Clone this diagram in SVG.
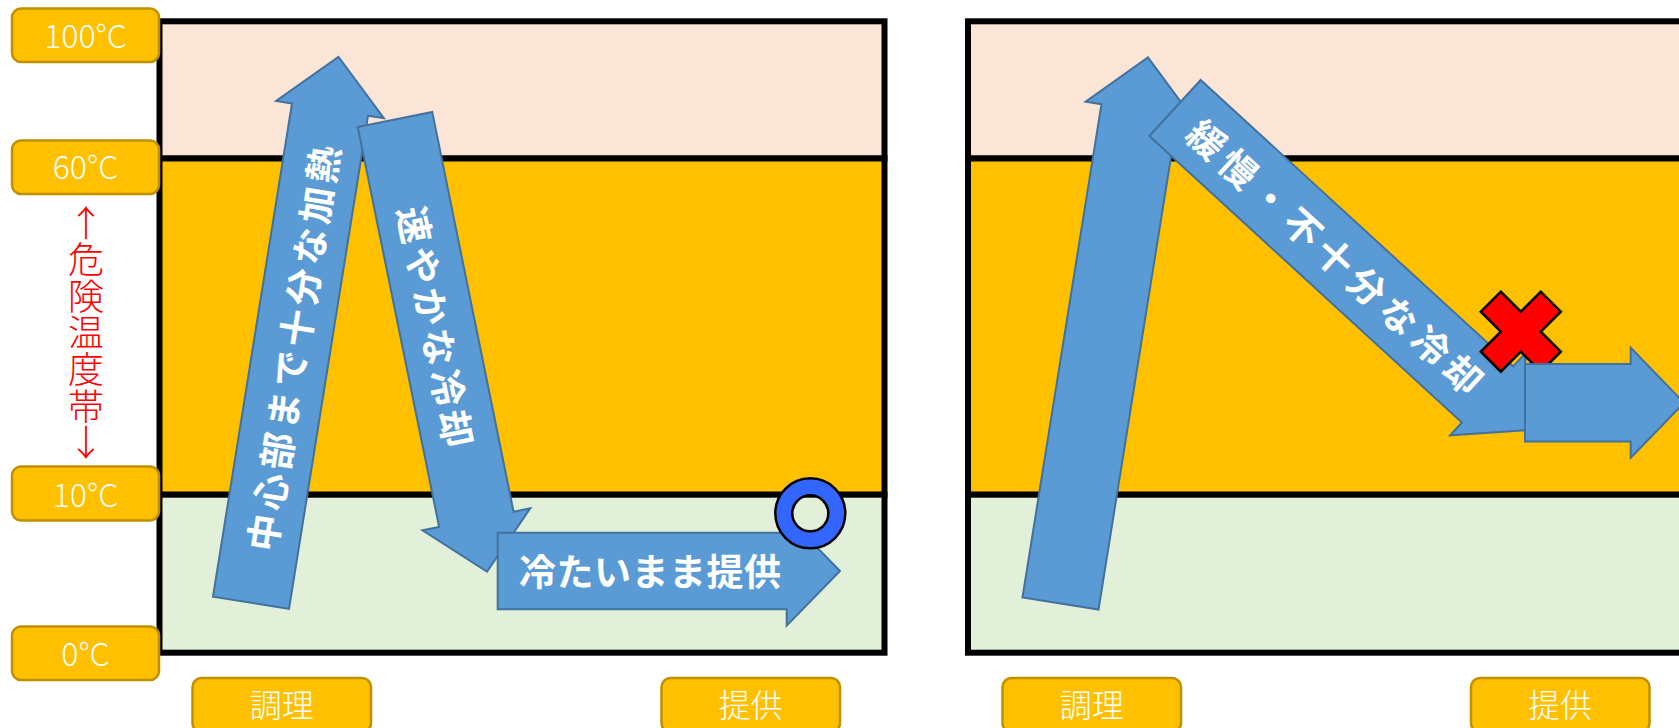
<svg xmlns="http://www.w3.org/2000/svg" width="1679" height="728" viewBox="0 0 1679 728">
<style>
.hot{fill:#FBE5D6;stroke:#000;stroke-width:6}
.mid{fill:#FFC000;stroke:#000;stroke-width:6}
.cold{fill:#E2F0D9;stroke:#000;stroke-width:6}
.arr{fill:#5B9BD5;stroke:#41719C;stroke-width:2;stroke-linejoin:miter}
.atxt{font-family:"Noto Sans CJK JP","Noto Sans",sans-serif;font-weight:bold;font-size:37px;fill:#fff;text-anchor:middle;dominant-baseline:central}
.lbl{fill:#FFC000;stroke:#BF9000;stroke-width:2.5}
.ltxt{font-family:"Noto Sans CJK JP","Noto Sans",sans-serif;font-weight:300;font-size:32px;fill:#fff;text-anchor:middle;dominant-baseline:central}
.red{font-family:"Noto Sans CJK JP",sans-serif;font-weight:300;font-size:36px;fill:#FF0000;writing-mode:vertical-rl;text-orientation:upright;letter-spacing:0.6px}
</style>
<defs>
<polygon id="upArrow" points="-38.5,0 -38.5,-499.5 -54.5,-499.5 0,-553 54.5,-499.5 38.5,-499.5 38.5,0"/>
</defs>
<rect width="1679" height="728" fill="#fff"/>
<g id="chart-left">
<rect class="hot" x="159.5" y="21.3" width="725" height="137.2"/>
<rect class="mid" x="159.5" y="158.5" width="725" height="336.2"/>
<rect class="cold" x="159.5" y="494.7" width="725" height="158"/>
</g>
<g id="chart-right">
<rect class="hot" x="968" y="21.3" width="725" height="137.2"/>
<rect class="mid" x="968" y="158.5" width="725" height="336.2"/>
<rect class="cold" x="968" y="494.7" width="725" height="158"/>
</g>
<g id="connectors">
<g id="heat-left" transform="translate(251,602.8) rotate(9.1)">
<use href="#upArrow" class="arr"/>
<text class="atxt" transform="translate(0,-258) rotate(-90)" textLength="410" lengthAdjust="spacing">中心部まで十分な加熱</text>
</g>
<g id="cool-left" transform="translate(395,119.5) rotate(-11.5)">
<polygon class="arr" points="-38,0 38,0 38,408 55,408 0,461.5 -55,408 -38,408"/>
<text class="atxt" transform="translate(0,211) rotate(90)" textLength="245" lengthAdjust="spacing">速やかな冷却</text>
</g>
<g id="serve-left">
<polygon class="arr" points="497.7,532.7 786.7,532.7 786.7,516.4 840,571 786.7,625.6 786.7,609.3 497.7,609.3"/>
<text class="atxt" x="650" y="570" textLength="262" lengthAdjust="spacing">冷たいまま提供</text>
</g>
<g id="heat-right" transform="translate(1060.5,603.5) rotate(9.1)">
<use href="#upArrow" class="arr"/>
</g>
<g id="cool-right" transform="translate(1175,108) rotate(42.5)">
<polygon class="arr" points="0,-38 424,-38 424,-55.4 477,0 424,55.4 424,38 0,38"/>
<text class="atxt" x="218.6" y="0" textLength="385" lengthAdjust="spacing">緩慢・不十分な冷却</text>
</g>
</g>
<g id="mark-ng" transform="translate(1520.8,331.7)">
<polygon points="-20,-40 0,-20 20,-40 40,-20 20,0 40,20 20,40 0,20 -20,40 -40,20 -20,0 -40,-20" fill="#FF0000" stroke="#000" stroke-width="2.5" stroke-linejoin="miter"/>
</g>
<g id="serve-right">
<polygon class="arr" points="1525,364 1630.7,364 1630.7,347.8 1684,402.8 1630.7,457.8 1630.7,441.6 1525,441.6"/>
</g>
<g id="mark-ok">
<path d="M845.3,513.3 A35,35 0 1,0 775.3,513.3 A35,35 0 1,0 845.3,513.3 Z M828.3,513.3 A18,18 0 1,0 792.3,513.3 A18,18 0 1,0 828.3,513.3 Z" fill="#3366FF" fill-rule="evenodd" stroke="#000" stroke-width="2.5"/>
</g>
<g id="label-100">
<rect class="lbl" x="12" y="8.5" width="147" height="53.5" rx="9"/>
<text class="ltxt" x="85.5" y="34">100°C</text>
</g>
<g id="label-60">
<rect class="lbl" x="12" y="140.5" width="147" height="53.5" rx="9"/>
<text class="ltxt" x="85.5" y="165">60°C</text>
</g>
<g id="label-10">
<rect class="lbl" x="12" y="466.5" width="147" height="54" rx="9"/>
<text class="ltxt" x="85.5" y="492.5">10°C</text>
</g>
<g id="label-0">
<rect class="lbl" x="12" y="626.5" width="147" height="53.5" rx="9"/>
<text class="ltxt" x="85.5" y="652">0°C</text>
</g>
<g id="danger-zone">
<text class="red" x="86" y="205">↑危険温度帯↓</text>
</g>
<g id="label-cook-left">
<rect class="lbl" x="192.5" y="678" width="178.5" height="54" rx="9"/>
<text class="ltxt" x="281.7" y="703">調理</text>
</g>
<g id="label-serve-left">
<rect class="lbl" x="661.5" y="678" width="178.5" height="54" rx="9"/>
<text class="ltxt" x="750.5" y="703">提供</text>
</g>
<g id="label-cook-right">
<rect class="lbl" x="1002.5" y="678" width="178.5" height="54" rx="9"/>
<text class="ltxt" x="1091.7" y="703">調理</text>
</g>
<g id="label-serve-right">
<rect class="lbl" x="1471" y="678" width="178.5" height="54" rx="9"/>
<text class="ltxt" x="1560" y="703">提供</text>
</g>
</svg>
